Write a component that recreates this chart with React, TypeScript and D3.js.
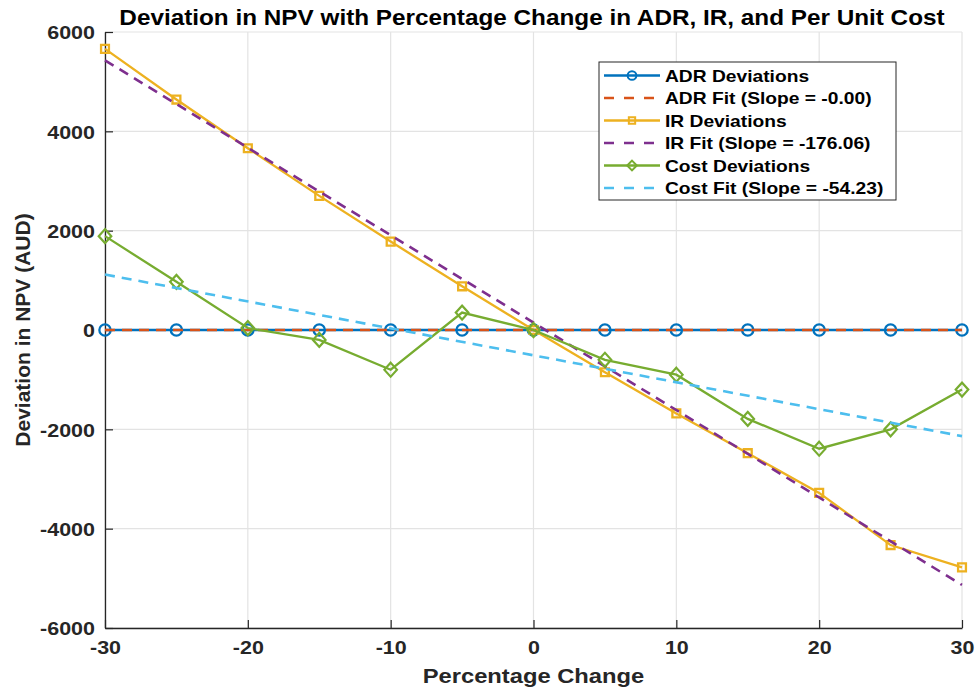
import React, { useEffect, useRef } from "react";
import * as d3 from "d3";

const pctChange = [-30, -25, -20, -15, -10, -5, 0, 5, 10, 15, 20, 25, 30];
const adrDev = [0, 0, 0, 0, 0, 0, 0, 0, 0, 0, 0, 0, 0];
const irDev = [5660, 4640, 3660, 2700, 1780, 880, 0, -850, -1680, -2480, -3280, -4330, -4780];
const costDev = [1890, 970, 40, -200, -800, 350, 0, -600, -900, -1790, -2390, -2000, -1200];

// fit lines: slope from the legend, intercept
const adrFit = { slope: 0, intercept: 0 };
const irFit = { slope: -176.06, intercept: 148 };
const costFit = { slope: -54.23, intercept: -510 };

const xTicks = [-30, -20, -10, 0, 10, 20, 30];
const yTicks = [-6000, -4000, -2000, 0, 2000, 4000, 6000];

const FONT = "'Liberation Sans', Arial, sans-serif";
// the reference text looks a bit wider than plain Arial bold
const STRETCH = 1.13;

export default function App() {
  const svgRef = useRef<SVGSVGElement>(null);

  useEffect(() => {
    const w = 975;
    const h = 690;
    const m = { left: 105, right: 962, top: 32, bottom: 628 };

    const svg = d3.select(svgRef.current).attr("width", w).attr("height", h);
    svg.selectAll("*").remove();

    const x = d3.scaleLinear().domain([-30, 30]).range([m.left, m.right]);
    const y = d3.scaleLinear().domain([-6000, 6000]).range([m.bottom, m.top]);

    svg.append("rect").attr("width", w).attr("height", h).attr("fill", "#fff");

    // grid
    const grid = svg.append("g").attr("stroke", "#e3e3e3").attr("stroke-width", 1.2);
    grid
      .selectAll(".gx")
      .data(xTicks)
      .join("line")
      .attr("x1", (d) => x(d))
      .attr("x2", (d) => x(d))
      .attr("y1", m.top)
      .attr("y2", m.bottom);
    grid
      .selectAll(".gy")
      .data(yTicks)
      .join("line")
      .attr("y1", (d) => y(d))
      .attr("y2", (d) => y(d))
      .attr("x1", m.left)
      .attr("x2", m.right);

    // axes (plain hyphen minus, no thousands separator)
    const fmt = (d: d3.NumberValue) => String(d);
    const xAxis = d3.axisBottom(x).tickValues(xTicks).tickFormat(fmt).tickSizeInner(-8).tickSizeOuter(0).tickPadding(13);
    const yAxis = d3.axisLeft(y).tickValues(yTicks).tickFormat(fmt).tickSizeInner(-8).tickSizeOuter(0).tickPadding(10);

    const gx = svg.append("g").attr("transform", `translate(0,${m.bottom})`).call(xAxis);
    const gy = svg.append("g").attr("transform", `translate(${m.left},0)`).call(yAxis);
    [gx, gy].forEach((g) => {
      g.select(".domain").attr("stroke", "#262626").attr("stroke-width", 1.3);
      g.selectAll("line").attr("stroke", "#262626").attr("stroke-width", 1.2);
      g.selectAll("text")
        .attr("class", "stretch")
        .attr("font-family", FONT)
        .attr("font-size", 19)
        .attr("font-weight", "bold")
        .attr("fill", "#262626");
    });
    gy.selectAll("text").attr("dy", "0.36em");

    const line = d3
      .line<number>()
      .x((d, i) => x(pctChange[i]))
      .y((d) => y(d));

    const fitLine = (f: { slope: number; intercept: number }) =>
      d3
        .line<number>()
        .x((d) => x(d))
        .y((d) => y(f.slope * d + f.intercept))([pctChange[0], pctChange[pctChange.length - 1]]);

    const plot = svg.append("g");

    const drawSeries = (data: number[], color: string, marker: string) => {
      plot
        .append("path")
        .attr("d", line(data))
        .attr("fill", "none")
        .attr("stroke", color)
        .attr("stroke-width", 2.3);
      const sym =
        marker === "circle"
          ? d3.symbol().type(d3.symbolCircle).size(100)
          : marker === "square"
          ? d3.symbol().type(d3.symbolSquare).size(62)
          : d3.symbol().type(d3.symbolDiamond2).size(125);
      plot
        .append("g")
        .selectAll("path")
        .data(data)
        .join("path")
        .attr("d", sym() as string)
        .attr("transform", (d, i) => `translate(${x(pctChange[i])},${y(d)})${marker === "diamond" ? " scale(0.9,1)" : ""}`)
        .attr("fill", "none")
        .attr("stroke", color)
        .attr("stroke-width", 2.3);
    };

    const drawFit = (f: { slope: number; intercept: number }, color: string) => {
      plot
        .append("path")
        .attr("d", fitLine(f))
        .attr("fill", "none")
        .attr("stroke", color)
        .attr("stroke-width", 2.6)
        .attr("stroke-dasharray", "10,7");
    };

    drawSeries(adrDev, "#0072BD", "circle");
    drawFit(adrFit, "#D95319");
    drawSeries(irDev, "#EDB120", "square");
    drawFit(irFit, "#7E2F8E");
    drawSeries(costDev, "#77AC30", "diamond");
    drawFit(costFit, "#4DBEEE");

    // title + labels
    svg
      .append("text")
      .attr("class", "stretch")
      .attr("x", 532)
      .attr("y", 25)
      .attr("text-anchor", "middle")
      .attr("font-family", FONT)
      .attr("font-size", 21.5)
      .attr("font-weight", "bold")
      .attr("fill", "#000")
      .text("Deviation in NPV with Percentage Change in ADR, IR, and Per Unit Cost");

    svg
      .append("text")
      .attr("class", "stretch")
      .attr("x", (m.left + m.right) / 2)
      .attr("y", 683)
      .attr("text-anchor", "middle")
      .attr("font-family", FONT)
      .attr("font-size", 21)
      .attr("font-weight", "bold")
      .attr("fill", "#262626")
      .text("Percentage Change");

    svg
      .append("text")
      .attr("transform", `translate(30,${(m.top + m.bottom) / 2}) rotate(-90)`)
      .attr("text-anchor", "middle")
      .attr("font-family", FONT)
      .attr("font-size", 21)
      .attr("font-weight", "bold")
      .attr("fill", "#262626")
      .text("Deviation in NPV (AUD)");

    // legend
    const legendItems = [
      { label: "ADR Deviations", color: "#0072BD", dash: false, marker: "circle" },
      { label: "ADR Fit (Slope = -0.00)", color: "#D95319", dash: true, marker: "" },
      { label: "IR Deviations", color: "#EDB120", dash: false, marker: "square" },
      { label: "IR Fit (Slope = -176.06)", color: "#7E2F8E", dash: true, marker: "" },
      { label: "Cost Deviations", color: "#77AC30", dash: false, marker: "diamond" },
      { label: "Cost Fit (Slope = -54.23)", color: "#4DBEEE", dash: true, marker: "" },
    ];
    const lg = svg.append("g").attr("transform", "translate(599,62)");
    lg.append("rect")
      .attr("width", 297)
      .attr("height", 138)
      .attr("fill", "#fff")
      .attr("stroke", "#262626")
      .attr("stroke-width", 1);
    legendItems.forEach((it, i) => {
      const cy = 13.5 + i * 22.5;
      lg.append("line")
        .attr("x1", 5)
        .attr("x2", 61)
        .attr("y1", cy)
        .attr("y2", cy)
        .attr("stroke", it.color)
        .attr("stroke-width", 2.3)
        .attr("stroke-dasharray", it.dash ? "10,10" : null);
      if (it.marker) {
        const t =
          it.marker === "circle"
            ? d3.symbolCircle
            : it.marker === "square"
            ? d3.symbolSquare
            : d3.symbolDiamond2;
        lg.append("path")
          .attr("d", d3.symbol().type(t).size(it.marker === "square" ? 40 : 60)() as string)
          .attr("transform", `translate(33,${cy})`)
          .attr("fill", "none")
          .attr("stroke", it.color)
          .attr("stroke-width", 2);
      }
      lg.append("text")
        .attr("class", "stretch")
        .attr("x", 66)
        .attr("y", cy + 6)
        .attr("font-family", FONT)
        .attr("font-size", 17)
        .attr("font-weight", "bold")
        .attr("fill", "#000")
        .text(it.label);
    });

    svg.selectAll<SVGTextElement, unknown>("text.stretch").each(function () {
      const len = this.getComputedTextLength();
      d3.select(this).attr("textLength", len * STRETCH).attr("lengthAdjust", "spacingAndGlyphs");
    });
  }, []);

  return (
    <div>
      <svg ref={svgRef} style={{ display: "block", position: "absolute", left: 0, top: 0 }}></svg>
    </div>
  );
}
